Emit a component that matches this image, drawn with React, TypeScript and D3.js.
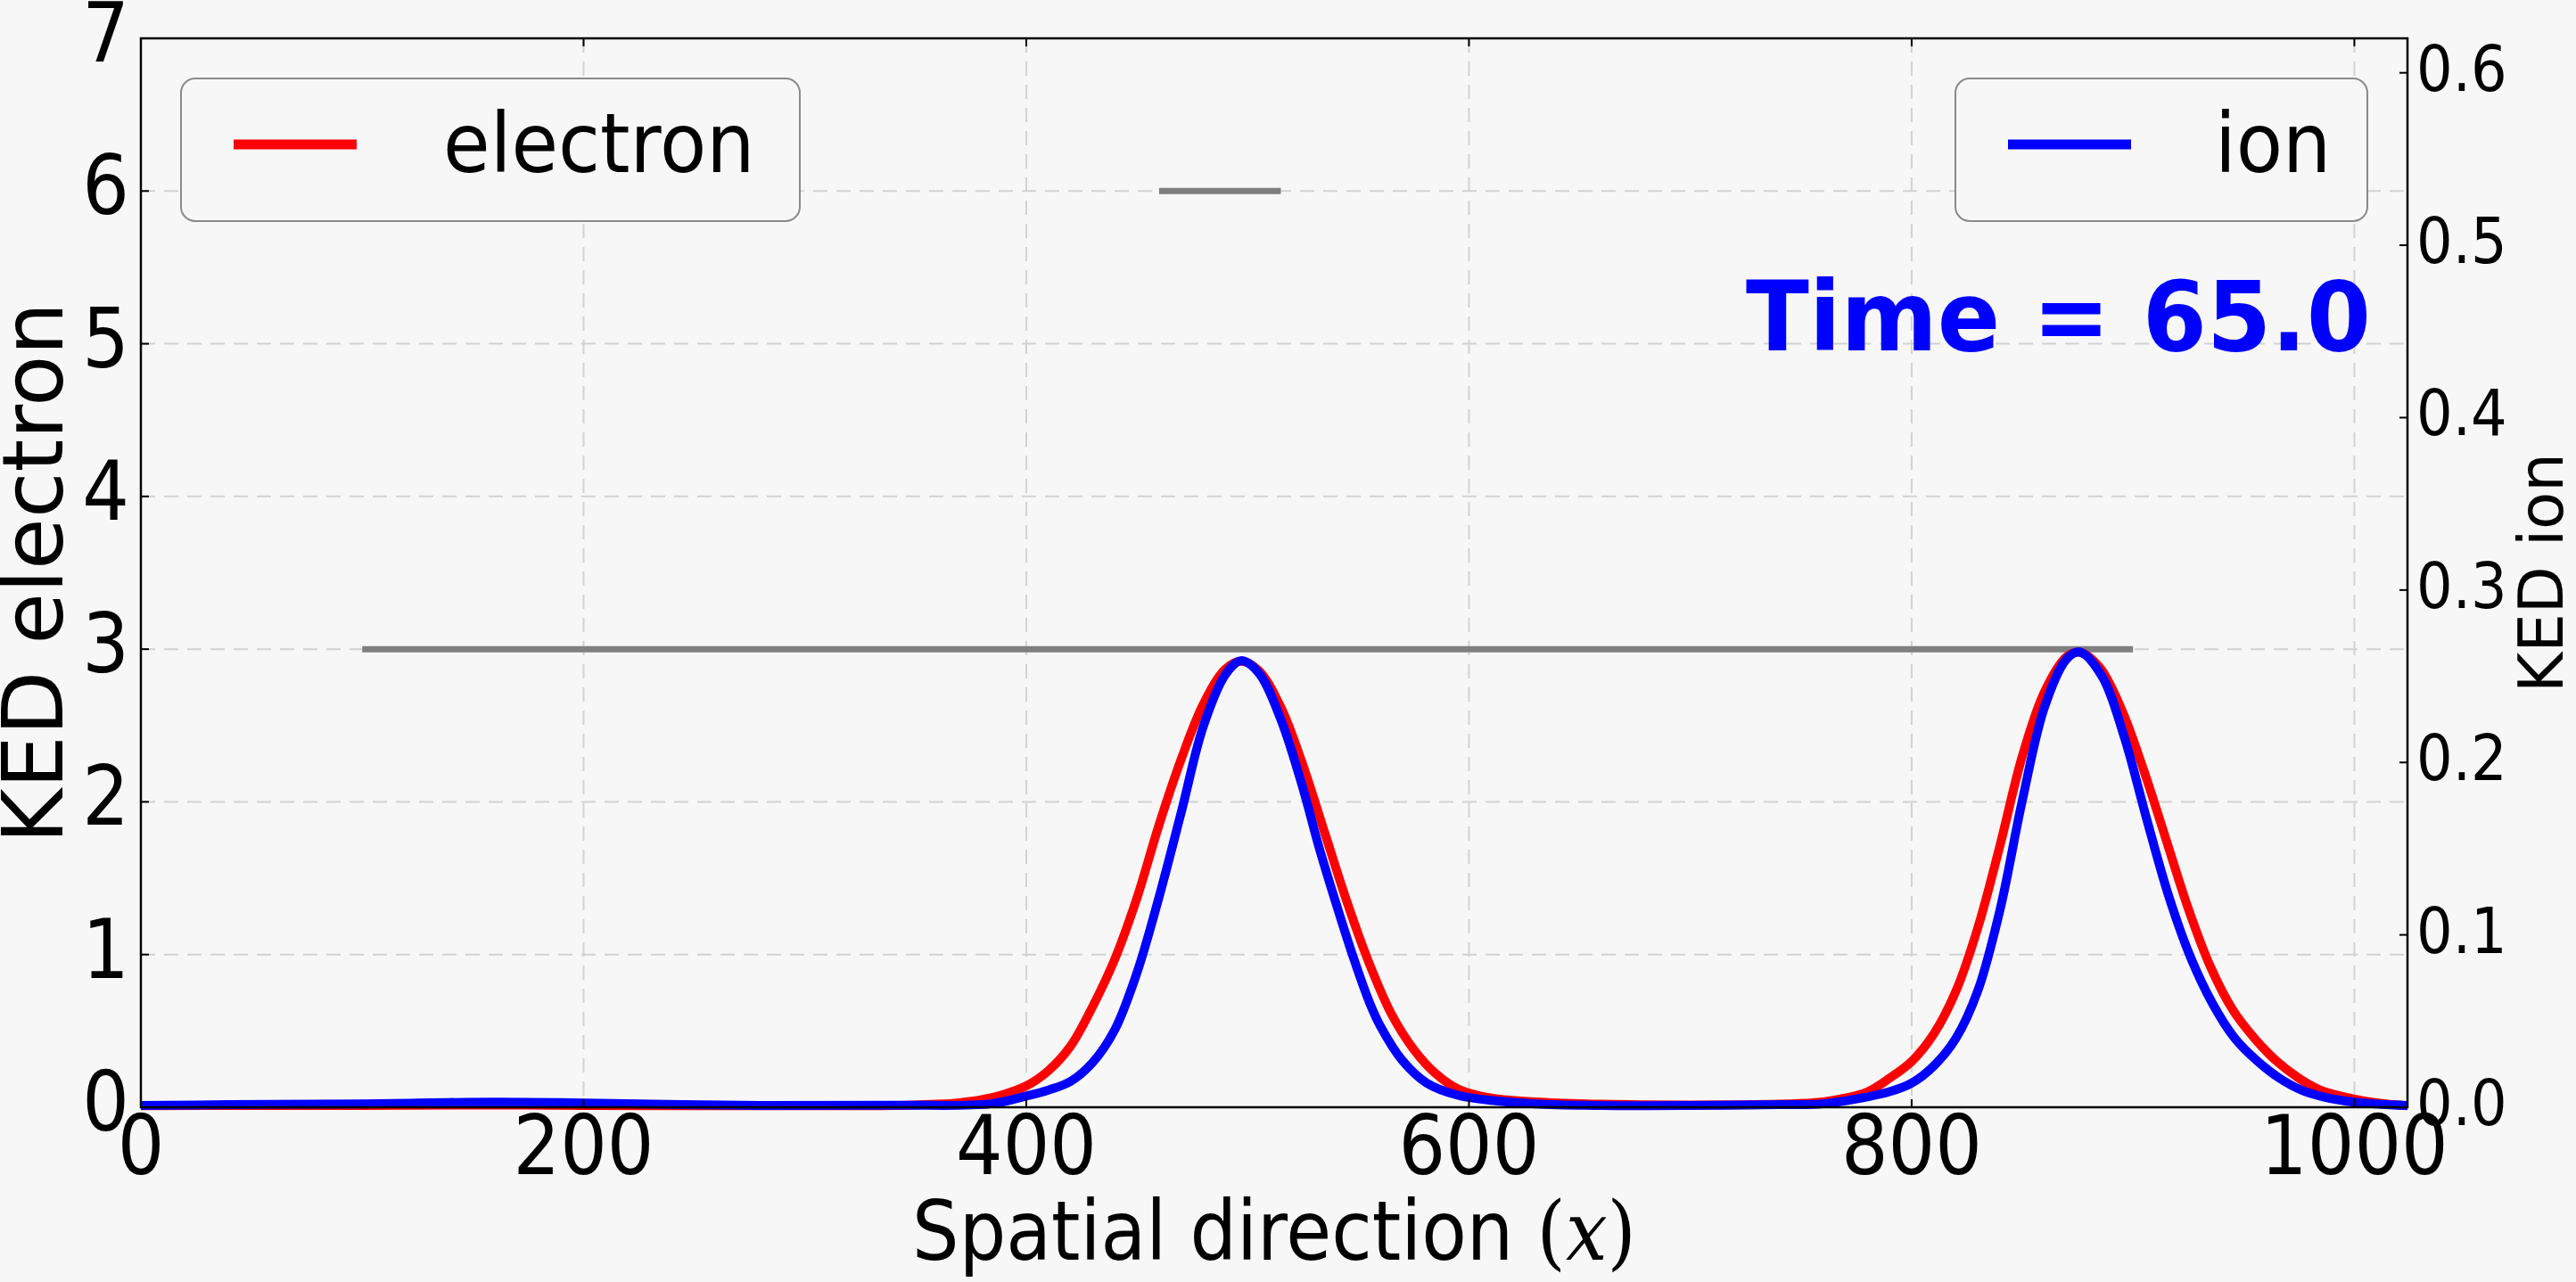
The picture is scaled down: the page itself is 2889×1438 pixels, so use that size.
import { useEffect } from 'react';
import * as d3 from 'd3';

// electron kinetic energy density (left axis)
const electronX = [0, 50, 100, 150, 200, 250, 300, 340, 360, 370, 380, 390, 400, 410, 420, 430, 440, 450, 460, 470, 480, 490, 497, 505, 515, 525, 535, 545, 555, 565, 575, 585, 595, 610, 630, 660, 700, 740, 760, 770, 780, 790, 800, 810, 820, 830, 840, 850, 860, 870, 876, 885, 895, 905, 915, 925, 935, 945, 955, 965, 975, 985, 995, 1005, 1015, 1024];
const electronY = [0.01, 0.012, 0.012, 0.015, 0.012, 0.01, 0.01, 0.012, 0.02, 0.03, 0.05, 0.085, 0.14, 0.24, 0.4, 0.66, 0.97, 1.37, 1.85, 2.28, 2.64, 2.87, 2.92, 2.86, 2.62, 2.24, 1.79, 1.34, 0.94, 0.61, 0.38, 0.22, 0.12, 0.06, 0.035, 0.02, 0.015, 0.02, 0.035, 0.06, 0.1, 0.19, 0.3, 0.48, 0.76, 1.18, 1.72, 2.3, 2.72, 2.95, 2.98, 2.88, 2.6, 2.2, 1.75, 1.3, 0.92, 0.64, 0.45, 0.3, 0.19, 0.11, 0.07, 0.04, 0.02, 0.01];

// ion kinetic energy density (right axis)
const ionX = [0, 40, 100, 160, 200, 280, 340, 384, 400, 410, 420, 430, 440, 450, 460, 470, 480, 490, 497, 505, 515, 525, 532, 540, 548, 555, 560, 570, 581, 595, 610, 630, 660, 700, 740, 760, 780, 790, 800, 810, 820, 830, 840, 850, 860, 870, 876, 886, 896, 906, 916, 926, 936, 946, 956, 966, 976, 986, 1000, 1024];
const ionY = [0.001, 0.0015, 0.002, 0.003, 0.0025, 0.001, 0.0012, 0.002, 0.0065, 0.01, 0.015, 0.026, 0.045, 0.078, 0.122, 0.171, 0.221, 0.251, 0.259, 0.252, 0.225, 0.185, 0.152, 0.118, 0.086, 0.061, 0.047, 0.027, 0.014, 0.007, 0.004, 0.002, 0.001, 0.001, 0.0015, 0.002, 0.006, 0.009, 0.014, 0.024, 0.04, 0.068, 0.115, 0.178, 0.232, 0.26, 0.264, 0.25, 0.215, 0.168, 0.123, 0.087, 0.06, 0.04, 0.027, 0.017, 0.01, 0.006, 0.003, 0.001];

// gray reference lines (left axis units)
const longLineX = [100, 900];
const longLineY = 3;
const shortLineX = [460, 515];
const shortLineY = 6;

const xTicks = [0, 200, 400, 600, 800, 1000];
const leftTicks = [0, 1, 2, 3, 4, 5, 6, 7];
const rightTicks = [0, 0.1, 0.2, 0.3, 0.4, 0.5, 0.6];

const timeLabel = 'Time = 65.0';

const W = 2889;
const H = 1438;
const L = 158, R = 2700, T = 43, B = 1242;
const BG = '#f7f7f7';
const FONT = 'DejaVu Sans';

const App = () => {
  useEffect(() => {
    document.body.style.margin = '0';
  }, []);

  const x = d3.scaleLinear().domain([0, 1024]).range([L, R]);
  const yL = d3.scaleLinear().domain([0, 7]).range([B, T]);
  const yR = d3.scaleLinear().domain([0, 0.62]).range([B, T]);

  const lineE = d3.line<number>()
    .x((_, i) => x(electronX[i]))
    .y(d => yL(d))
    .curve(d3.curveCatmullRom.alpha(0.5));
  const lineI = d3.line<number>()
    .x((_, i) => x(ionX[i]))
    .y(d => yR(d))
    .curve(d3.curveCatmullRom.alpha(0.5));

  const grid = '#d2d2d2';

  return (
    <svg width={W} height={H} style={{ display: 'block', background: BG }} fontFamily={FONT}>
      <rect x={0} y={0} width={W} height={H} fill={BG} />

      {/* grid */}
      {xTicks.filter(t => t > 0).map(t => (
        <line key={'gx' + t} x1={x(t)} x2={x(t)} y1={T} y2={B}
          stroke={grid} strokeWidth={2} strokeDasharray="16 10" />
      ))}
      {leftTicks.filter(t => t > 0 && t < 7).map(t => (
        <line key={'gy' + t} x1={L} x2={R} y1={yL(t)} y2={yL(t)}
          stroke={grid} strokeWidth={2} strokeDasharray="16 10" />
      ))}

      {/* gray reference lines */}
      <line x1={x(longLineX[0])} x2={x(longLineX[1])} y1={yL(longLineY)} y2={yL(longLineY)}
        stroke="#7f7f7f" strokeWidth={7} />
      <line x1={x(shortLineX[0])} x2={x(shortLineX[1])} y1={yL(shortLineY)} y2={yL(shortLineY)}
        stroke="#7f7f7f" strokeWidth={7} />

      {/* data */}
      <path d={lineE(electronY) ?? ''} fill="none" stroke="#ff0000" strokeWidth={10} strokeLinejoin="round" />
      <path d={lineI(ionY) ?? ''} fill="none" stroke="#0000ff" strokeWidth={10} strokeLinejoin="round" />

      {/* frame */}
      <rect x={L} y={T} width={R - L} height={B - T} fill="none" stroke="#000" strokeWidth={2.5} />

      {/* ticks */}
      {xTicks.map(t => (
        <g key={'tx' + t}>
          <line x1={x(t)} x2={x(t)} y1={B} y2={B - 9} stroke="#000" strokeWidth={2} />
          <line x1={x(t)} x2={x(t)} y1={T} y2={T + 9} stroke="#000" strokeWidth={2} />
          <text transform={`translate(${x(t)},${B + 75}) scale(0.9,1)`} textAnchor="middle" fontSize={92}>{t}</text>
        </g>
      ))}
      {leftTicks.map(t => (
        <g key={'tl' + t}>
          <line x1={L} x2={L + 9} y1={yL(t)} y2={yL(t)} stroke="#000" strokeWidth={2} />
          <text transform={`translate(${L - 13},${yL(t) + 26}) scale(0.9,1)`} textAnchor="end" fontSize={92}>{t}</text>
        </g>
      ))}
      {rightTicks.map(t => (
        <g key={'tr' + t}>
          <line x1={R} x2={R - 9} y1={yR(t)} y2={yR(t)} stroke="#000" strokeWidth={2} />
          <text transform={`translate(${R + 10},${yR(t) + 20}) scale(0.9,1)`} textAnchor="start" fontSize={71}>{t.toFixed(1)}</text>
        </g>
      ))}

      {/* axis labels */}
      <text transform={`translate(${(L + R) / 2},1413) scale(0.9,1)`} textAnchor="middle" fontSize={92}>
        Spatial direction <tspan fontFamily="DejaVu Serif">(</tspan><tspan fontFamily="DejaVu Serif" fontStyle="italic">x</tspan><tspan fontFamily="DejaVu Serif">)</tspan>
      </text>
      <text transform={`translate(70,${(T + B) / 2}) rotate(-90)`} textAnchor="middle" fontSize={94}>KED electron</text>
      <text transform={`translate(2874,${(T + B) / 2}) rotate(-90)`} textAnchor="middle" fontSize={69}>KED ion</text>

      {/* legends */}
      <rect x={203} y={88} width={694} height={160} rx={16} fill={BG} stroke="#8a8a8a" strokeWidth={2} />
      <line x1={262} x2={400} y1={162} y2={162} stroke="#ff0000" strokeWidth={11} />
      <text transform="translate(497,193) scale(0.93,1)" fontSize={92}>electron</text>

      <rect x={2193} y={88} width={462} height={160} rx={16} fill={BG} stroke="#8a8a8a" strokeWidth={2} />
      <line x1={2252} x2={2390} y1={162} y2={162} stroke="#0000ff" strokeWidth={11} />
      <text transform="translate(2484,193) scale(0.93,1)" fontSize={92}>ion</text>

      {/* time stamp */}
      <text x={2659} y={393} textAnchor="end" fontSize={108} fontWeight="bold" fill="#0000ff"
        textLength={701} lengthAdjust="spacingAndGlyphs">{timeLabel}</text>
    </svg>
  );
};

export default App;
